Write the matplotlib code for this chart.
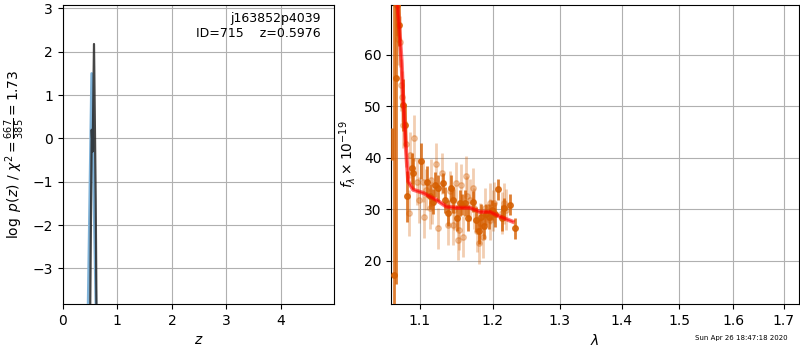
import matplotlib
matplotlib.use("Agg")
import matplotlib.pyplot as plt
from matplotlib.ticker import ScalarFormatter, NullLocator, FixedLocator

# ---- left panel: log p(z) ----
z_fine = [0.490, 0.531, 0.549, 0.573, 0.604, 0.630]
logp_fine = [-6.0, 0.20, -0.30, 2.18, -1.40, -6.0]
z_coarse = [0.440, 0.531, 0.640]
logp_coarse = [-6.0, 1.50, -6.0]

root = "j163852p4039"
obj_id = 715
z_best = 0.5976
chi2_num, chi2_den, chi2_red = 667, 385, 1.73
timestamp = "Sun Apr 26 18:47:18 2020"

# ---- right panel: spectrum ----
lam_bin = [1.0664, 1.0689, 1.0706, 1.0732, 1.0775, 1.0805, 1.0834, 1.0891, 1.0912,
           1.1013, 1.1088, 1.1132, 1.1176, 1.1199, 1.1243, 1.1310, 1.1333, 1.1378,
           1.1415, 1.1446, 1.1492, 1.1538, 1.1561, 1.1607, 1.1644, 1.1714, 1.1760,
           1.1806, 1.1830, 1.1873, 1.1901, 1.1948, 1.1983, 1.2030, 1.2078, 1.2127,
           1.2160, 1.2248, 1.2320]
flux_bin = [17.3, 55.5, 69.7, 65.8, 50.3, 46.4, 32.5, 38.0, 37.0,
            39.3, 35.4, 32.5, 31.5, 34.8, 34.1, 35.1, 31.8, 29.3,
            34.1, 31.8, 28.3, 31.2, 30.9, 31.2, 28.3, 31.5, 28.0,
            25.7, 28.6, 26.7, 29.0, 28.6, 29.9, 29.0, 33.9, 28.3,
            30.2, 30.9, 26.3]
err_bin = [60, 40, 6, 4, 5, 4, 5, 3, 3,
           3.5, 3, 2.5, 2.5, 2.5, 2.5, 2, 2.5, 2.5,
           2.5, 2.5, 2.5, 2.5, 2, 2.5, 2.5, 2, 2.5,
           2.5, 2.5, 2.5, 2, 2.5, 2, 2.5, 2, 2.5,
           2, 2, 2]

lam_bar = [1.0640]
flux_bar = [42.7]
err_bar = [3.1]

lam_raw = [1.0715, 1.0740, 1.0750, 1.0762, 1.0775, 1.0818, 1.0870, 1.0860, 1.0925,
           1.0957, 1.0991, 1.1043, 1.1053, 1.1075, 1.1132, 1.1141, 1.1155, 1.1212,
           1.1243, 1.1289, 1.1378, 1.1401, 1.1446, 1.1455, 1.1483, 1.1506, 1.1528,
           1.1547, 1.1575, 1.1621, 1.1639, 1.1676, 1.1714, 1.1736, 1.1770, 1.1798,
           1.1816, 1.1855, 1.1887, 1.1958, 1.1968, 1.1997, 1.2015, 1.2127, 1.2160,
           1.2199]
flux_raw = [63.0, 62.6, 54.2, 51.9, 46.4, 42.7, 40.6, 29.3, 43.8,
            35.4, 31.8, 35.4, 28.5, 33.8, 30.2, 35.7, 31.2, 38.8,
            26.3, 37.0, 27.0, 33.5, 27.0, 29.9, 35.2, 24.1, 26.0,
            34.8, 24.7, 36.4, 32.5, 31.8, 34.1, 30.2, 25.8, 23.4,
            27.3, 24.6, 30.2, 31.2, 28.0, 29.7, 31.3, 29.3, 31.2,
            29.9]
err_raw = [5, 5, 5, 5, 4.5, 4.5, 4.5, 4.5, 4.5,
           4.5, 4.5, 4, 4, 4, 4, 4, 4, 4,
           4, 4, 4, 4, 4, 4, 4, 4, 4,
           4, 4, 4, 4, 4, 4, 4, 4, 4,
           4, 4, 4, 4, 4, 4, 4, 4, 4,
           4]

lam_model = [1.0690, 1.0708, 1.0733, 1.0762, 1.0782, 1.0818, 1.0847, 1.0912, 1.1040,
             1.1220, 1.1356, 1.1490, 1.1677, 1.1817, 1.1958, 1.2100, 1.2290]
flux_model = [78.0, 69.7, 64.9, 58.4, 51.3, 41.6, 35.4, 33.8, 33.2,
              31.8, 30.5, 30.3, 30.3, 29.5, 29.5, 28.6, 27.6]

grism_color = '#d55e00'

fig = plt.figure(figsize=(8, 3.5), dpi=100)

ax1 = fig.add_axes([0.0784, 0.1314, 0.3391, 0.8543])
ax1.plot(z_coarse, logp_coarse, color='#7fb2d8', lw=2.0, zorder=3)
ax1.plot(z_fine, logp_fine, color='0.15', lw=1.6, alpha=0.85, zorder=4)
ax1.set_xlim(0, 4.97)
ax1.set_ylim(logp_fine[3] - 6, logp_fine[3] + 0.9)
ax1.set_xticks([0, 1, 2, 3, 4])
ax1.set_yticks([-3, -2, -1, 0, 1, 2, 3])
ax1.grid(True)
ax1.set_axisbelow(True)
ax1.set_xlabel(r'$z$')
ax1.set_ylabel(r'$\log\ p(z)$' + ' / ' +
               r'$\chi^2=\frac{%d}{%d}=%.2f$' % (chi2_num, chi2_den, chi2_red))
ax1.text(0.95, 0.975, '%s\nID=%d    z=%.4f' % (root, obj_id, z_best),
         transform=ax1.transAxes, ha='right', va='top', fontsize=9)

ax2 = fig.add_axes([0.4888, 0.1314, 0.5100, 0.8543])
ax2.set_xscale('log')
ax2.errorbar(lam_raw, flux_raw, yerr=err_raw, fmt='o', color=grism_color,
             alpha=0.3, ms=4, elinewidth=2, capsize=0, zorder=2)
ax2.errorbar(lam_bar, flux_bar, yerr=err_bar, fmt='none', ecolor=grism_color,
             alpha=0.8, elinewidth=2.5, capsize=0, zorder=3)
ax2.errorbar(lam_bin, flux_bin, yerr=err_bin, fmt='o', color=grism_color,
             alpha=0.8, ms=4, elinewidth=2, capsize=0, zorder=4)
ax2.plot(lam_model, flux_model, color='r', lw=3, alpha=0.55, zorder=5)
ax2.plot(lam_model, flux_model, color='r', lw=1.2, alpha=0.6, zorder=6)
ax2.set_xlim(1.0626, 1.731)
ax2.set_ylim(11.6, 69.7)
ax2.xaxis.set_major_locator(FixedLocator([1.1, 1.2, 1.3, 1.4, 1.5, 1.6, 1.7]))
ax2.xaxis.set_minor_locator(NullLocator())
fmt = ScalarFormatter()
ax2.xaxis.set_major_formatter(fmt)
ax2.set_xticklabels(['1.1', '1.2', '1.3', '1.4', '1.5', '1.6', '1.7'])
ax2.set_yticks([20, 30, 40, 50, 60])
ax2.grid(True)
ax2.set_axisbelow(True)
ax2.set_xlabel(r'$\lambda$')
ax2.set_ylabel(r'$f_\lambda \times 10^{-19}$')

fig.text(0.985, 0.025, timestamp, ha='right', va='bottom', fontsize=5)

fig.savefig('out.png', dpi=100)
